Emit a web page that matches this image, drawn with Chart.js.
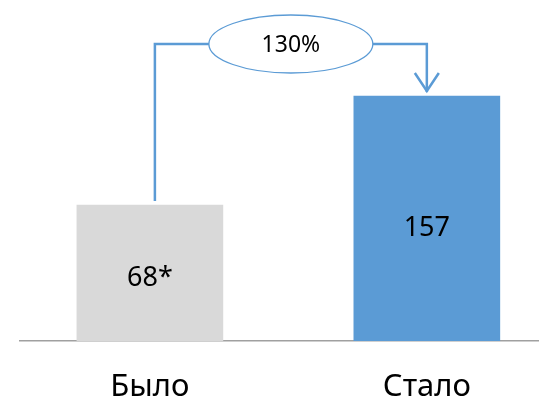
<!DOCTYPE html>
<html>
<head>
<meta charset="utf-8">
<script src="https://cdn.jsdelivr.net/npm/chart.js@4"></script>
<style>
  html, body { margin: 0; padding: 0; background: #fff; }
  #wrap { width: 539px; height: 403px; }
</style>
</head>
<body>
<div id="wrap"><canvas id="chartAvantApres"></canvas></div>
<script>
// données
const categories = ['Было', 'Стало'];
const values = [68, 157];
const valueMarks = ['*', ''];
const barColors = ['#D9D9D9', '#5B9BD5'];
const changeLabel = '130%';

const yMin = -43;
const yMax = 219;

// étiquettes dans les barres
const barLabels = {
    id: 'barLabels',
    afterDatasetsDraw(chart) {
        const ctx = chart.ctx;
        const meta = chart.getDatasetMeta(0);
        ctx.save();
        ctx.font = '27px "Noto Sans"';
        ctx.fillStyle = '#000';
        ctx.textAlign = 'center';
        ctx.textBaseline = 'middle';
        meta.data.forEach((bar, i) => {
            const y = bar.base - (bar.base - bar.y) * 0.46;
            ctx.fillText(values[i] + valueMarks[i], bar.x, y);
        });
        ctx.restore();
    }
};

// flèche entre les deux barres avec l'ellipse
const connector = {
    id: 'connector',
    afterDatasetsDraw(chart) {
        const ctx = chart.ctx;
        const meta = chart.getDatasetMeta(0);
        const a = meta.data[0];
        const b = meta.data[1];
        const x1 = a.x + 5;
        const x2 = b.x;
        const yTop = chart.chartArea.top + 24;
        const cx = (x1 + x2) / 2;

        ctx.save();
        ctx.strokeStyle = '#5B9BD5';
        ctx.lineWidth = 2.5;
        ctx.beginPath();
        ctx.moveTo(x1, a.y - 4);
        ctx.lineTo(x1, yTop);
        ctx.lineTo(x2, yTop);
        ctx.lineTo(x2, b.y - 4);
        ctx.stroke();

        // pointe
        ctx.beginPath();
        ctx.moveTo(x2 - 12, b.y - 23);
        ctx.lineTo(x2, b.y - 5);
        ctx.lineTo(x2 + 12, b.y - 23);
        ctx.stroke();

        // ellipse
        ctx.beginPath();
        ctx.ellipse(cx, yTop, 82, 29, 0, 0, Math.PI * 2);
        ctx.fillStyle = '#fff';
        ctx.fill();
        ctx.lineWidth = 1.3;
        ctx.stroke();

        ctx.font = '23px "Noto Sans"';
        ctx.fillStyle = '#000';
        ctx.textAlign = 'center';
        ctx.textBaseline = 'middle';
        ctx.fillText(changeLabel, cx, yTop + 1);
        ctx.restore();
    }
};

const ctx = document.getElementById('chartAvantApres');
new Chart(ctx, {
    type: 'bar',
    data: {
        datasets: [{
            data: values.map((v, i) => ({ x: i, y: v })),
            backgroundColor: barColors,
            barThickness: 146,
            base: yMin
        }]
    },
    options: {
        responsive: true,
        maintainAspectRatio: false,
        animation: false,
        layout: { padding: { left: 20, top: 20, right: 0, bottom: 0 } },
        plugins: {
            legend: { display: false },
            tooltip: { enabled: false }
        },
        scales: {
            x: {
                type: 'linear',
                offset: false,
                min: -0.469,
                max: 1.405,
                grid: { display: false, drawTicks: false },
                border: { display: true, color: '#A0A0A0', width: 1.5 },
                afterBuildTicks: (scale) => {
                    scale.ticks = categories.map((c, i) => ({ value: i }));
                },
                afterFit: (scale) => {
                    scale.height = 62;
                },
                ticks: {
                    autoSkip: false,
                    maxRotation: 0,
                    padding: 28,
                    color: '#000',
                    font: { family: 'Noto Sans', size: 31 },
                    callback: (v) => categories[v]
                }
            },
            y: {
                display: false,
                min: yMin,
                max: yMax
            }
        }
    },
    plugins: [barLabels, connector]
});
</script>
</body>
</html>
